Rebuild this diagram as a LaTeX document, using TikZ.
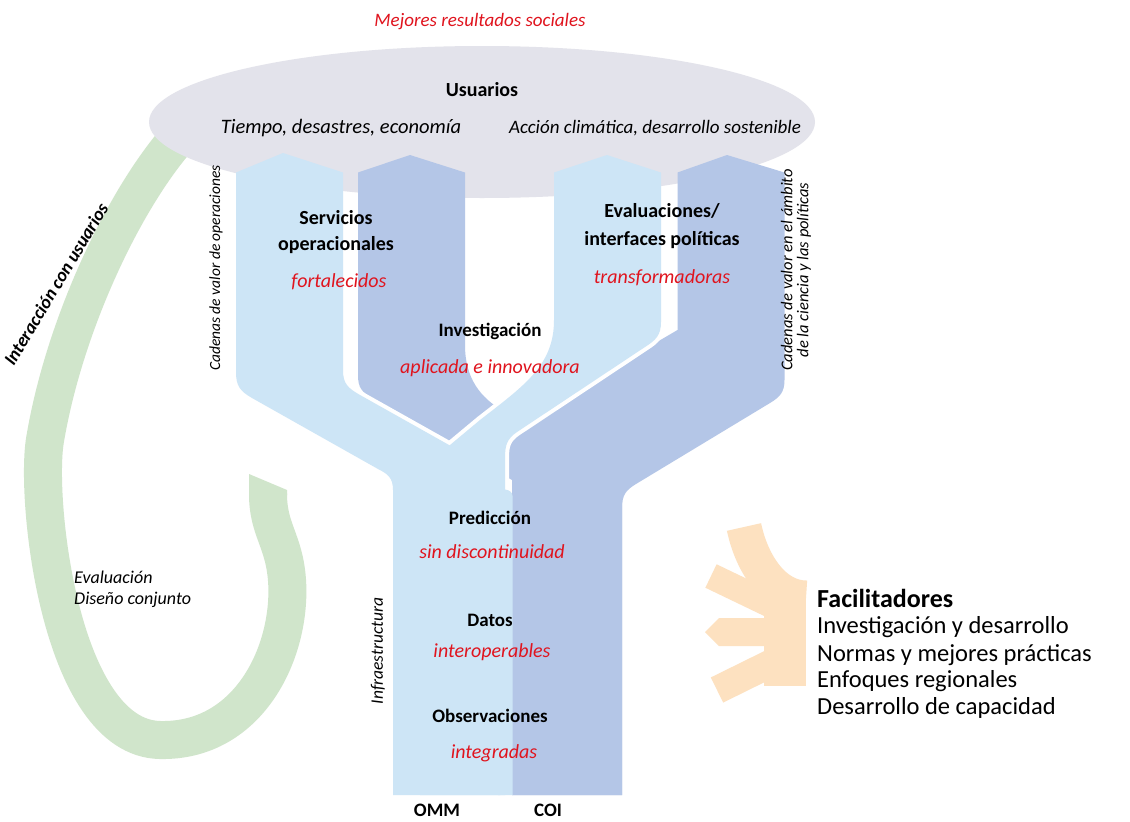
\documentclass[tikz,border=0pt]{standalone}
\usepackage{fontspec}
\setmainfont{Carlito}
\definecolor{lb}{HTML}{CDE5F6}
\definecolor{db}{HTML}{B4C6E7}
\definecolor{gy}{HTML}{E3E3EB}
\definecolor{gn}{HTML}{D0E5CB}
\definecolor{org}{HTML}{FDE1C0}
\definecolor{rd}{HTML}{E0141E}
\begin{document}
\begin{tikzpicture}[x=1pt,y=-1pt,
  sep/.style={draw=white, line width=8pt},
  hd/.style={font=\fontsize{20}{23}\selectfont\bfseries, inner sep=0pt},
  hdt/.style={font=\fontsize{19}{22}\selectfont\bfseries, inner sep=0pt},
  rdi/.style={font=\fontsize{20}{23}\selectfont\itshape, text=rd, inner sep=0pt},
  it/.style={font=\fontsize{20.5}{22}\selectfont\itshape, inner sep=0pt},
  sm/.style={font=\fontsize{15.5}{17}\selectfont\itshape, inner sep=0pt},
  lst/.style={font=\fontsize{24.5}{28}\selectfont, inner sep=0pt, anchor=west}]
\useasboundingbox (0,0) rectangle (1130,822);
\fill[white] (0,0) rectangle (1130,822);

% green user-interaction arc
\draw[line width=38pt, gn, line cap=butt] (190,125) .. controls (130,185) and (65,320) .. (45,440)
  .. controls (35,500) and (60,738) .. (160,740)
  .. controls (250,742) and (292,650) .. (287,580)
  .. controls (284,540) and (268,530) .. (268,494);
\fill[gn] (249,495) -- (249,474) -- (287,490) -- (287,495) -- cycle;

% users ellipse
\fill[gy] (482,122) ellipse [x radius=333, y radius=76];

% dark (COI) tree
\fill[db] (358,172.5) -- (410,155) -- (465,172.5) -- (465,345)
  .. controls (465,378) and (480,398) .. (505,412) -- (600,462)
  .. controls (615,470) and (622,478) .. (622,495) -- (622,795) -- (512,795) -- (512,480)
  -- (372,398) .. controls (362,392) and (358,388) .. (358,375) -- cycle;
\fill[db] (677.5,172.5) -- (727,155) -- (784.5,172.5) -- (784.5,380)
  .. controls (784.5,392) and (780,397) .. (770,403) -- (636,484)
  .. controls (626,490) and (622,495) .. (622,508) -- (622,795) -- (512,795) -- (512,440)
  -- (640,352) -- (677.5,330) -- cycle;

% white separations along the light branches
\draw[sep] (343,330) -- (343,370) .. controls (343,384) and (348,388) .. (360,395) -- (490,468)
  .. controls (498,472) and (500,478) .. (500,490) -- (500,500);
\draw[sep] (554,320) .. controls (554,365) and (525,385) .. (480,420) -- (420,470);
\draw[sep] (661,300) -- (661,322) .. controls (661,335) and (656,340) .. (645,347) -- (517,432)
  .. controls (507,439) and (505,445) .. (505,458) -- (505,496);

% light (OMM) tree
\fill[lb] (236,172.5) -- (283,153) -- (343,172.5) -- (343,370)
  .. controls (343,384) and (348,388) .. (360,395) -- (490,468)
  .. controls (498,472) and (500,478) .. (500,490) -- (500,795) -- (393,795) -- (393,490)
  .. controls (393,478) and (388,474) .. (378,469) -- (252,398)
  .. controls (240,391) and (236,386) .. (236,372) -- cycle;
\fill[lb] (554,172.5) -- (607,155) -- (661,172.5) -- (661,322)
  .. controls (661,335) and (656,340) .. (645,347) -- (517,432)
  .. controls (507,439) and (505,445) .. (505,458) -- (505,795) -- (420,795) -- (420,470)
  -- (480,420) .. controls (525,385) and (554,365) .. (554,320) -- cycle;
\fill[lb] (498,492) .. controls (498,488) and (512.5,488) .. (512.5,496) -- (512.5,795) -- (498,795) -- cycle;

% enablers hand
\draw[line width=35pt, org, line cap=butt] (744,527) .. controls (752,565) and (775,598) .. (806,598);
\fill[org] (764,588) rectangle (806,686);
\draw[line width=26pt, org, line cap=butt] (711,576) -- (790,614);
\fill[org] (705,632) -- (719,618) -- (790,618) -- (790,646) -- (719,646) -- cycle;
\draw[line width=28pt, org, line cap=butt] (717,690) -- (794,652);

% texts
\node[font=\fontsize{19}{22}\selectfont\itshape, text=rd, inner sep=0pt] (mej) at (480,22) {Mejores resultados sociales};
\node[hd] (usu) at (482,90) {Usuarios};
\node[it] (tie) at (341,128) {Tiempo, desastres, economía};
\node[font=\fontsize{19}{22}\selectfont\itshape, inner sep=0pt] (acc) at (655,128) {Acción climática, desarrollo sostenible};

\node[hd] (ser1) at (336,218) {Servicios};
\node[hd] (ser2) at (336,245) {operacionales};
\node[rdi] (fort) at (339,282) {fortalecidos};

\node[hd] (eva1) at (662,211) {Evaluaciones/};
\node[hd] (eva2) at (662,240) {interfaces políticas};
\node[rdi] (tran) at (662,278) {transformadoras};

\node[hdt] (inv) at (490,331) {Investigación};
\node[rdi] (apl) at (490,368) {aplicada e innovadora};

\node[hdt] (pre) at (490,518) {Predicción};
\node[rdi] (sin) at (492,552) {sin discontinuidad};
\node[hdt] (dat) at (490,620) {Datos};
\node[rdi] (int) at (492,652) {interoperables};
\node[hdt] (obs) at (490,716) {Observaciones};
\node[rdi] (ing) at (494,753) {integradas};

\node[hdt] (omm) at (437,810) {OMM};
\node[hdt] (coi) at (548,810) {COI};

\node[sm, rotate=90] (cad1) at (216,268) {Cadenas de valor de operaciones};
\node[font=\fontsize{16.5}{16}\selectfont\itshape, inner sep=0pt, rotate=90, align=center] (cad2) at (796,270) {Cadenas de valor en el ámbito\\de la ciencia y las políticas};
\node[font=\fontsize{17.5}{20}\selectfont\itshape, inner sep=0pt, rotate=90] (inf) at (378,651) {Infraestructura};

\node[font=\fontsize{18.5}{21}\selectfont\bfseries\itshape, inner sep=0pt, rotate=59] (ixu) at (56,284) {Interacción con usuarios};
\node[font=\fontsize{18}{23}\selectfont\itshape, inner sep=0pt, anchor=west] (ev1) at (74,577) {Evaluación};
\node[font=\fontsize{18}{23}\selectfont\itshape, inner sep=0pt, anchor=west] (ev2) at (74,600) {Diseño conjunto};

\node[font=\fontsize{26}{29}\selectfont\bfseries, inner sep=0pt, anchor=west] (fac) at (817,598) {Facilitadores};
\node[lst] (f1) at (817,627) {Investigación y desarrollo};
\node[lst] (f2) at (817,655) {Normas y mejores prácticas};
\node[lst] (f3) at (817,681) {Enfoques regionales};
\node[lst] (f4) at (817,708) {Desarrollo de capacidad};
\end{tikzpicture}
\end{document}
